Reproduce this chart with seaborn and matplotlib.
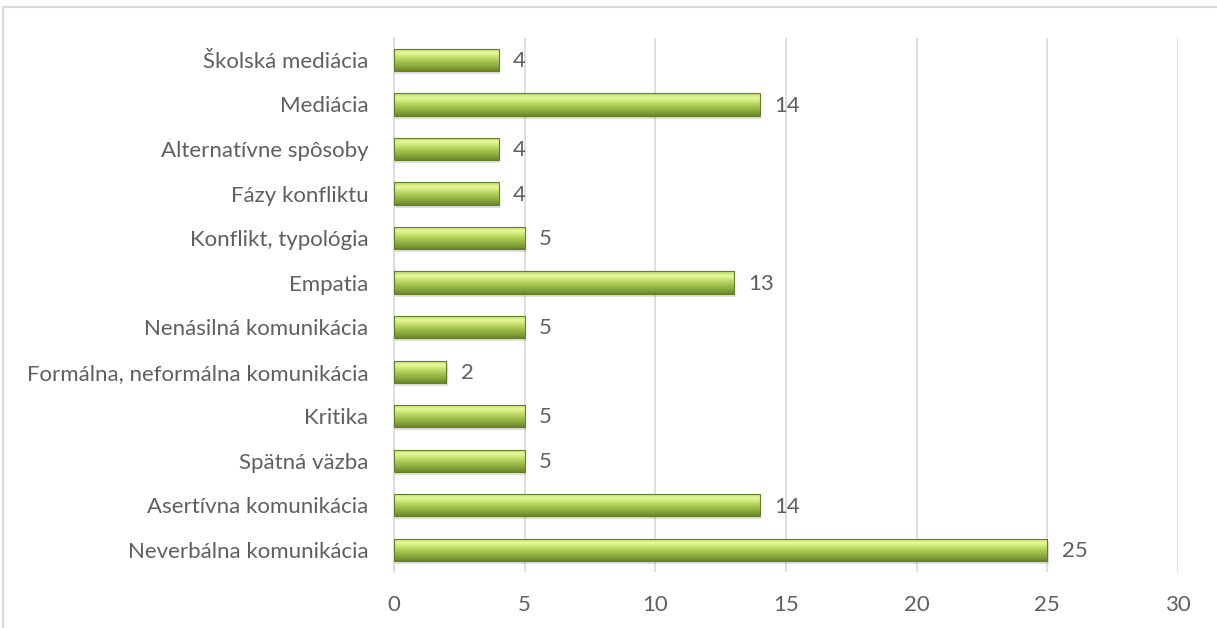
import numpy as np
import pandas as pd
import matplotlib
matplotlib.use("Agg")
import matplotlib.pyplot as plt
import seaborn as sns
from matplotlib.colors import LinearSegmentedColormap
from matplotlib.patches import Rectangle

categories = [
    "Školská mediácia",
    "Mediácia",
    "Alternatívne spôsoby",
    "Fázy konfliktu",
    "Konflikt, typológia",
    "Empatia",
    "Nenásilná komunikácia",
    "Formálna, neformálna komunikácia",
    "Kritika",
    "Spätná väzba",
    "Asertívna komunikácia",
    "Neverbálna komunikácia",
]
values = [4, 14, 4, 4, 5, 13, 5, 2, 5, 5, 14, 25]
x_ticks = [0, 5, 10, 15, 20, 25, 30]

df = pd.DataFrame({"cat": categories, "val": values})

sns.set_theme(style="white")
plt.rcParams["font.family"] = ["Lato", "DejaVu Sans"]

FS = 16
TXT = "#5f5f5f"

fig = plt.figure(figsize=(12.17, 6.28), dpi=100)
ax = fig.add_axes([394 / 1217, 1 - 572 / 628, (1178 - 394) / 1217, (572 - 37.7) / 628])

sns.barplot(data=df, y="cat", x="val", orient="h", color="#9bbb59", width=0.5,
            ax=ax, zorder=3, edgecolor="none")

ax.set_xlim(0, 30)
ax.set_xticks(x_ticks)
ax.set_xticklabels([str(t) for t in x_ticks])
ax.set_xlabel("")
ax.set_ylabel("")
ax.grid(axis="x", color="#d9d9d9", linewidth=1.2, zorder=0)
ax.set_axisbelow(True)
for s in ["top", "right", "bottom"]:
    ax.spines[s].set_visible(False)
ax.spines["left"].set_color("#d9d9d9")
ax.spines["left"].set_linewidth(1.2)
ax.tick_params(axis="both", length=0, labelsize=FS, colors=TXT)
ax.tick_params(axis="y", pad=18.5)
ax.tick_params(axis="x", pad=16.5)

cmap = LinearSegmentedColormap.from_list(
    "g", ["#b5d65e", "#e8f99c", "#c4e06c", "#a2c24e", "#8aa93e", "#6a8729"])
grad = np.linspace(0, 1, 64).reshape(-1, 1)
for p in list(ax.patches):
    x0, y0 = p.get_x(), p.get_y()
    w, h = p.get_width(), p.get_height()
    sh = Rectangle((x0 + 0.05, y0 + 0.07), w, h, facecolor="#000000", alpha=0.12,
                   edgecolor="none", zorder=2)
    ax.add_patch(sh)
    im = ax.imshow(grad, extent=[x0, x0 + w, y0 + h, y0], aspect="auto",
                   cmap=cmap, zorder=4, interpolation="bicubic")
    im.set_clip_path(p)
    p.set_facecolor("#9bbb59")
    ax.text(x0 + w + 0.55, y0 + h / 2 + 0.03, f"{int(w)}", va="center", ha="left",
            fontsize=FS, color=TXT, zorder=5)
    border = Rectangle((x0, y0), w, h, facecolor="none", edgecolor="#627e26",
                       linewidth=0.8, zorder=5)
    ax.add_patch(border)

ax.set_ylim(11.5, -0.5)

fig.patches.append(Rectangle((3 / 1217, -0.1), 1.2, (621 / 628) + 0.1,
                             transform=fig.transFigure, facecolor="none",
                             edgecolor="#d9d9d9", linewidth=1.5, zorder=0))

fig.savefig("out.png", dpi=100)
